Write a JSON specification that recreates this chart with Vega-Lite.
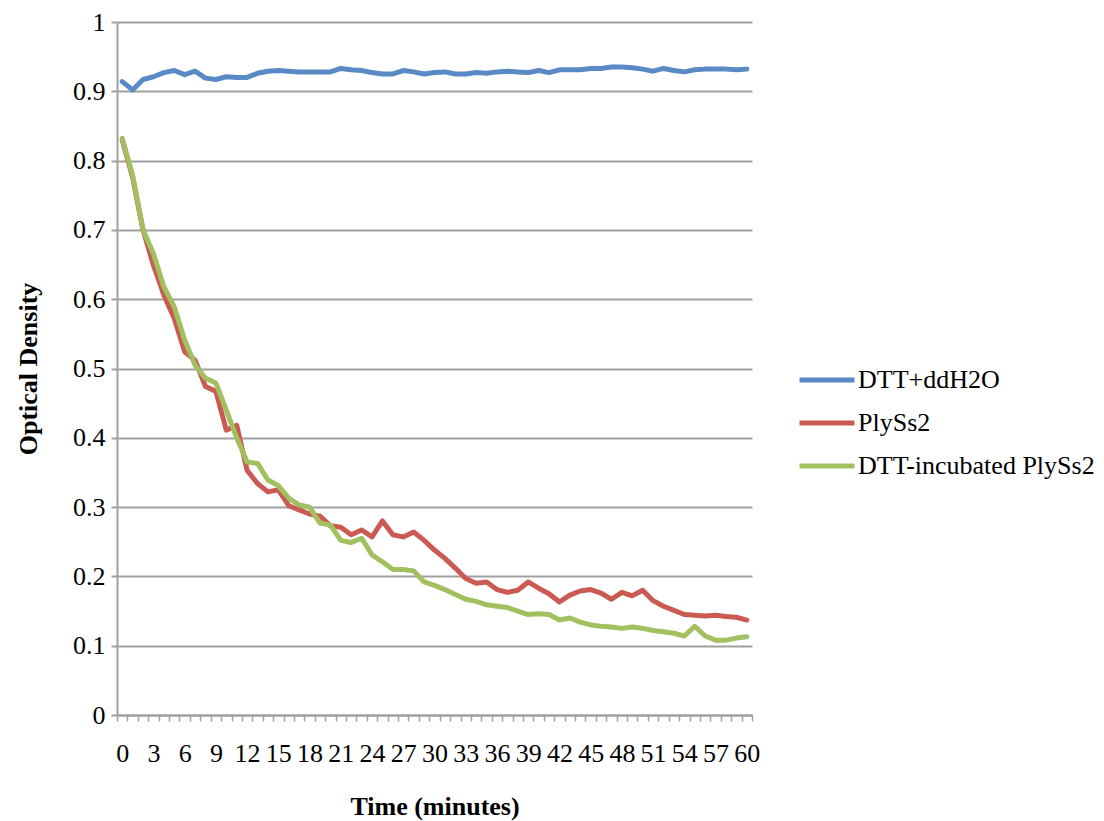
{
  "$schema": "https://vega.github.io/schema/vega-lite/v6.json",
  "autosize": "none",
  "padding": {"left": 117, "top": 22, "right": 352, "bottom": 106},
  "width": 635,
  "height": 693,
  "background": "white",
  "config": {
    "font": "Liberation Serif",
    "view": {"stroke": null}
  },
  "datasets": {
    "od": [
      {"t": 0, "series": "DTT+ddH2O", "od": 0.914},
      {"t": 1, "series": "DTT+ddH2O", "od": 0.902},
      {"t": 2, "series": "DTT+ddH2O", "od": 0.917},
      {"t": 3, "series": "DTT+ddH2O", "od": 0.921},
      {"t": 4, "series": "DTT+ddH2O", "od": 0.927},
      {"t": 5, "series": "DTT+ddH2O", "od": 0.930},
      {"t": 6, "series": "DTT+ddH2O", "od": 0.924},
      {"t": 7, "series": "DTT+ddH2O", "od": 0.929},
      {"t": 8, "series": "DTT+ddH2O", "od": 0.919},
      {"t": 9, "series": "DTT+ddH2O", "od": 0.917},
      {"t": 10, "series": "DTT+ddH2O", "od": 0.921},
      {"t": 11, "series": "DTT+ddH2O", "od": 0.920},
      {"t": 12, "series": "DTT+ddH2O", "od": 0.920},
      {"t": 13, "series": "DTT+ddH2O", "od": 0.926},
      {"t": 14, "series": "DTT+ddH2O", "od": 0.929},
      {"t": 15, "series": "DTT+ddH2O", "od": 0.930},
      {"t": 16, "series": "DTT+ddH2O", "od": 0.929},
      {"t": 17, "series": "DTT+ddH2O", "od": 0.928},
      {"t": 18, "series": "DTT+ddH2O", "od": 0.928},
      {"t": 19, "series": "DTT+ddH2O", "od": 0.928},
      {"t": 20, "series": "DTT+ddH2O", "od": 0.928},
      {"t": 21, "series": "DTT+ddH2O", "od": 0.933},
      {"t": 22, "series": "DTT+ddH2O", "od": 0.931},
      {"t": 23, "series": "DTT+ddH2O", "od": 0.930},
      {"t": 24, "series": "DTT+ddH2O", "od": 0.927},
      {"t": 25, "series": "DTT+ddH2O", "od": 0.925},
      {"t": 26, "series": "DTT+ddH2O", "od": 0.925},
      {"t": 27, "series": "DTT+ddH2O", "od": 0.930},
      {"t": 28, "series": "DTT+ddH2O", "od": 0.928},
      {"t": 29, "series": "DTT+ddH2O", "od": 0.925},
      {"t": 30, "series": "DTT+ddH2O", "od": 0.927},
      {"t": 31, "series": "DTT+ddH2O", "od": 0.928},
      {"t": 32, "series": "DTT+ddH2O", "od": 0.925},
      {"t": 33, "series": "DTT+ddH2O", "od": 0.925},
      {"t": 34, "series": "DTT+ddH2O", "od": 0.927},
      {"t": 35, "series": "DTT+ddH2O", "od": 0.926},
      {"t": 36, "series": "DTT+ddH2O", "od": 0.928},
      {"t": 37, "series": "DTT+ddH2O", "od": 0.929},
      {"t": 38, "series": "DTT+ddH2O", "od": 0.928},
      {"t": 39, "series": "DTT+ddH2O", "od": 0.927},
      {"t": 40, "series": "DTT+ddH2O", "od": 0.930},
      {"t": 41, "series": "DTT+ddH2O", "od": 0.927},
      {"t": 42, "series": "DTT+ddH2O", "od": 0.931},
      {"t": 43, "series": "DTT+ddH2O", "od": 0.931},
      {"t": 44, "series": "DTT+ddH2O", "od": 0.931},
      {"t": 45, "series": "DTT+ddH2O", "od": 0.933},
      {"t": 46, "series": "DTT+ddH2O", "od": 0.933},
      {"t": 47, "series": "DTT+ddH2O", "od": 0.935},
      {"t": 48, "series": "DTT+ddH2O", "od": 0.935},
      {"t": 49, "series": "DTT+ddH2O", "od": 0.934},
      {"t": 50, "series": "DTT+ddH2O", "od": 0.932},
      {"t": 51, "series": "DTT+ddH2O", "od": 0.929},
      {"t": 52, "series": "DTT+ddH2O", "od": 0.933},
      {"t": 53, "series": "DTT+ddH2O", "od": 0.930},
      {"t": 54, "series": "DTT+ddH2O", "od": 0.928},
      {"t": 55, "series": "DTT+ddH2O", "od": 0.931},
      {"t": 56, "series": "DTT+ddH2O", "od": 0.932},
      {"t": 57, "series": "DTT+ddH2O", "od": 0.932},
      {"t": 58, "series": "DTT+ddH2O", "od": 0.932},
      {"t": 59, "series": "DTT+ddH2O", "od": 0.931},
      {"t": 60, "series": "DTT+ddH2O", "od": 0.932},

      {"t": 0, "series": "PlySs2", "od": 0.830},
      {"t": 1, "series": "PlySs2", "od": 0.776},
      {"t": 2, "series": "PlySs2", "od": 0.700},
      {"t": 3, "series": "PlySs2", "od": 0.649},
      {"t": 4, "series": "PlySs2", "od": 0.606},
      {"t": 5, "series": "PlySs2", "od": 0.572},
      {"t": 6, "series": "PlySs2", "od": 0.524},
      {"t": 7, "series": "PlySs2", "od": 0.512},
      {"t": 8, "series": "PlySs2", "od": 0.474},
      {"t": 9, "series": "PlySs2", "od": 0.467},
      {"t": 10, "series": "PlySs2", "od": 0.411},
      {"t": 11, "series": "PlySs2", "od": 0.418},
      {"t": 12, "series": "PlySs2", "od": 0.353},
      {"t": 13, "series": "PlySs2", "od": 0.334},
      {"t": 14, "series": "PlySs2", "od": 0.322},
      {"t": 15, "series": "PlySs2", "od": 0.325},
      {"t": 16, "series": "PlySs2", "od": 0.302},
      {"t": 17, "series": "PlySs2", "od": 0.296},
      {"t": 18, "series": "PlySs2", "od": 0.290},
      {"t": 19, "series": "PlySs2", "od": 0.287},
      {"t": 20, "series": "PlySs2", "od": 0.273},
      {"t": 21, "series": "PlySs2", "od": 0.271},
      {"t": 22, "series": "PlySs2", "od": 0.260},
      {"t": 23, "series": "PlySs2", "od": 0.267},
      {"t": 24, "series": "PlySs2", "od": 0.257},
      {"t": 25, "series": "PlySs2", "od": 0.280},
      {"t": 26, "series": "PlySs2", "od": 0.260},
      {"t": 27, "series": "PlySs2", "od": 0.257},
      {"t": 28, "series": "PlySs2", "od": 0.264},
      {"t": 29, "series": "PlySs2", "od": 0.252},
      {"t": 30, "series": "PlySs2", "od": 0.238},
      {"t": 31, "series": "PlySs2", "od": 0.226},
      {"t": 32, "series": "PlySs2", "od": 0.212},
      {"t": 33, "series": "PlySs2", "od": 0.197},
      {"t": 34, "series": "PlySs2", "od": 0.190},
      {"t": 35, "series": "PlySs2", "od": 0.192},
      {"t": 36, "series": "PlySs2", "od": 0.181},
      {"t": 37, "series": "PlySs2", "od": 0.177},
      {"t": 38, "series": "PlySs2", "od": 0.180},
      {"t": 39, "series": "PlySs2", "od": 0.192},
      {"t": 40, "series": "PlySs2", "od": 0.183},
      {"t": 41, "series": "PlySs2", "od": 0.175},
      {"t": 42, "series": "PlySs2", "od": 0.163},
      {"t": 43, "series": "PlySs2", "od": 0.173},
      {"t": 44, "series": "PlySs2", "od": 0.179},
      {"t": 45, "series": "PlySs2", "od": 0.181},
      {"t": 46, "series": "PlySs2", "od": 0.176},
      {"t": 47, "series": "PlySs2", "od": 0.167},
      {"t": 48, "series": "PlySs2", "od": 0.177},
      {"t": 49, "series": "PlySs2", "od": 0.172},
      {"t": 50, "series": "PlySs2", "od": 0.180},
      {"t": 51, "series": "PlySs2", "od": 0.165},
      {"t": 52, "series": "PlySs2", "od": 0.157},
      {"t": 53, "series": "PlySs2", "od": 0.151},
      {"t": 54, "series": "PlySs2", "od": 0.145},
      {"t": 55, "series": "PlySs2", "od": 0.144},
      {"t": 56, "series": "PlySs2", "od": 0.143},
      {"t": 57, "series": "PlySs2", "od": 0.144},
      {"t": 58, "series": "PlySs2", "od": 0.142},
      {"t": 59, "series": "PlySs2", "od": 0.141},
      {"t": 60, "series": "PlySs2", "od": 0.137},

      {"t": 0, "series": "DTT-incubated PlySs2", "od": 0.832},
      {"t": 1, "series": "DTT-incubated PlySs2", "od": 0.779},
      {"t": 2, "series": "DTT-incubated PlySs2", "od": 0.700},
      {"t": 3, "series": "DTT-incubated PlySs2", "od": 0.666},
      {"t": 4, "series": "DTT-incubated PlySs2", "od": 0.618},
      {"t": 5, "series": "DTT-incubated PlySs2", "od": 0.589},
      {"t": 6, "series": "DTT-incubated PlySs2", "od": 0.541},
      {"t": 7, "series": "DTT-incubated PlySs2", "od": 0.505},
      {"t": 8, "series": "DTT-incubated PlySs2", "od": 0.486},
      {"t": 9, "series": "DTT-incubated PlySs2", "od": 0.479},
      {"t": 10, "series": "DTT-incubated PlySs2", "od": 0.440},
      {"t": 11, "series": "DTT-incubated PlySs2", "od": 0.400},
      {"t": 12, "series": "DTT-incubated PlySs2", "od": 0.365},
      {"t": 13, "series": "DTT-incubated PlySs2", "od": 0.363},
      {"t": 14, "series": "DTT-incubated PlySs2", "od": 0.339},
      {"t": 15, "series": "DTT-incubated PlySs2", "od": 0.331},
      {"t": 16, "series": "DTT-incubated PlySs2", "od": 0.313},
      {"t": 17, "series": "DTT-incubated PlySs2", "od": 0.303},
      {"t": 18, "series": "DTT-incubated PlySs2", "od": 0.300},
      {"t": 19, "series": "DTT-incubated PlySs2", "od": 0.277},
      {"t": 20, "series": "DTT-incubated PlySs2", "od": 0.274},
      {"t": 21, "series": "DTT-incubated PlySs2", "od": 0.252},
      {"t": 22, "series": "DTT-incubated PlySs2", "od": 0.249},
      {"t": 23, "series": "DTT-incubated PlySs2", "od": 0.255},
      {"t": 24, "series": "DTT-incubated PlySs2", "od": 0.231},
      {"t": 25, "series": "DTT-incubated PlySs2", "od": 0.221},
      {"t": 26, "series": "DTT-incubated PlySs2", "od": 0.210},
      {"t": 27, "series": "DTT-incubated PlySs2", "od": 0.210},
      {"t": 28, "series": "DTT-incubated PlySs2", "od": 0.208},
      {"t": 29, "series": "DTT-incubated PlySs2", "od": 0.192},
      {"t": 30, "series": "DTT-incubated PlySs2", "od": 0.187},
      {"t": 31, "series": "DTT-incubated PlySs2", "od": 0.181},
      {"t": 32, "series": "DTT-incubated PlySs2", "od": 0.174},
      {"t": 33, "series": "DTT-incubated PlySs2", "od": 0.167},
      {"t": 34, "series": "DTT-incubated PlySs2", "od": 0.164},
      {"t": 35, "series": "DTT-incubated PlySs2", "od": 0.159},
      {"t": 36, "series": "DTT-incubated PlySs2", "od": 0.157},
      {"t": 37, "series": "DTT-incubated PlySs2", "od": 0.155},
      {"t": 38, "series": "DTT-incubated PlySs2", "od": 0.150},
      {"t": 39, "series": "DTT-incubated PlySs2", "od": 0.145},
      {"t": 40, "series": "DTT-incubated PlySs2", "od": 0.146},
      {"t": 41, "series": "DTT-incubated PlySs2", "od": 0.145},
      {"t": 42, "series": "DTT-incubated PlySs2", "od": 0.137},
      {"t": 43, "series": "DTT-incubated PlySs2", "od": 0.140},
      {"t": 44, "series": "DTT-incubated PlySs2", "od": 0.134},
      {"t": 45, "series": "DTT-incubated PlySs2", "od": 0.130},
      {"t": 46, "series": "DTT-incubated PlySs2", "od": 0.128},
      {"t": 47, "series": "DTT-incubated PlySs2", "od": 0.127},
      {"t": 48, "series": "DTT-incubated PlySs2", "od": 0.125},
      {"t": 49, "series": "DTT-incubated PlySs2", "od": 0.127},
      {"t": 50, "series": "DTT-incubated PlySs2", "od": 0.125},
      {"t": 51, "series": "DTT-incubated PlySs2", "od": 0.122},
      {"t": 52, "series": "DTT-incubated PlySs2", "od": 0.120},
      {"t": 53, "series": "DTT-incubated PlySs2", "od": 0.118},
      {"t": 54, "series": "DTT-incubated PlySs2", "od": 0.114},
      {"t": 55, "series": "DTT-incubated PlySs2", "od": 0.128},
      {"t": 56, "series": "DTT-incubated PlySs2", "od": 0.114},
      {"t": 57, "series": "DTT-incubated PlySs2", "od": 0.108},
      {"t": 58, "series": "DTT-incubated PlySs2", "od": 0.108},
      {"t": 59, "series": "DTT-incubated PlySs2", "od": 0.111},
      {"t": 60, "series": "DTT-incubated PlySs2", "od": 0.113}
    ]
  },
  "data": {"name": "od"},
  "mark": {"type": "line", "strokeWidth": 5, "strokeJoin": "round", "strokeCap": "round"},
  "encoding": {
    "x": {
      "field": "t",
      "type": "quantitative",
      "scale": {"domain": [-0.5, 60.5], "nice": false, "zero": false},
      "axis": {
        "title": "Time (minutes)",
        "titleFont": "Liberation Serif",
        "titleFontSize": 26,
        "titleFontWeight": "bold",
        "titleColor": "black",
        "titlePadding": 27,
        "values": [-0.5, 0, 0.5, 1, 1.5, 2, 2.5, 3, 3.5, 4, 4.5, 5, 5.5, 6, 6.5, 7, 7.5, 8, 8.5, 9, 9.5, 10, 10.5, 11, 11.5, 12, 12.5, 13, 13.5, 14, 14.5, 15, 15.5, 16, 16.5, 17, 17.5, 18, 18.5, 19, 19.5, 20, 20.5, 21, 21.5, 22, 22.5, 23, 23.5, 24, 24.5, 25, 25.5, 26, 26.5, 27, 27.5, 28, 28.5, 29, 29.5, 30, 30.5, 31, 31.5, 32, 32.5, 33, 33.5, 34, 34.5, 35, 35.5, 36, 36.5, 37, 37.5, 38, 38.5, 39, 39.5, 40, 40.5, 41, 41.5, 42, 42.5, 43, 43.5, 44, 44.5, 45, 45.5, 46, 46.5, 47, 47.5, 48, 48.5, 49, 49.5, 50, 50.5, 51, 51.5, 52, 52.5, 53, 53.5, 54, 54.5, 55, 55.5, 56, 56.5, 57, 57.5, 58, 58.5, 59, 59.5, 60, 60.5],
        "labelExpr": "datum.value % 3 === 0 ? format(datum.value, 'd') : ''",
        "labelOverlap": false,
        "labelFlush": false,
        "labelFont": "Liberation Serif",
        "labelFontSize": 26,
        "labelColor": "black",
        "labelPadding": 19,
        "tickSize": 6,
        "tickWidth": 1.5,
        "tickColor": "#a0a0a0",
        "tickOpacity": {"condition": {"test": "datum.value % 1 !== 0", "value": 1}, "value": 0},
        "domainColor": "#a0a0a0",
        "domainWidth": 2,
        "grid": false
      }
    },
    "y": {
      "field": "od",
      "type": "quantitative",
      "scale": {"domain": [0, 1], "nice": false},
      "axis": {
        "title": "Optical Density",
        "titleFont": "Liberation Serif",
        "titleFontSize": 26,
        "titleFontWeight": "bold",
        "titleColor": "black",
        "titlePadding": 31,
        "values": [0, 0.1, 0.2, 0.3, 0.4, 0.5, 0.6, 0.7, 0.8, 0.9, 1],
        "format": "~g",
        "labelFont": "Liberation Serif",
        "labelFontSize": 26,
        "labelColor": "black",
        "labelPadding": 6,
        "tickSize": 6,
        "tickWidth": 2,
        "tickColor": "#a0a0a0",
        "domainColor": "#a0a0a0",
        "domainWidth": 2,
        "grid": true,
        "gridColor": "#a0a0a0",
        "gridWidth": 2
      }
    },
    "color": {
      "field": "series",
      "type": "nominal",
      "sort": ["DTT+ddH2O", "PlySs2", "DTT-incubated PlySs2"],
      "scale": {
        "domain": ["DTT+ddH2O", "PlySs2", "DTT-incubated PlySs2"],
        "range": ["#5A8AC6", "#CB5A53", "#A2C05F"]
      },
      "legend": {
        "title": null,
        "orient": "none",
        "legendX": 680,
        "legendY": 328,
        "symbolType": "stroke",
        "symbolSize": 3025,
        "symbolStrokeWidth": 5,
        "labelFont": "Liberation Serif",
        "labelFontSize": 26,
        "labelColor": "black",
        "labelOffset": 1,
        "labelLimit": 400,
        "rowPadding": 0
      }
    }
  }
}
